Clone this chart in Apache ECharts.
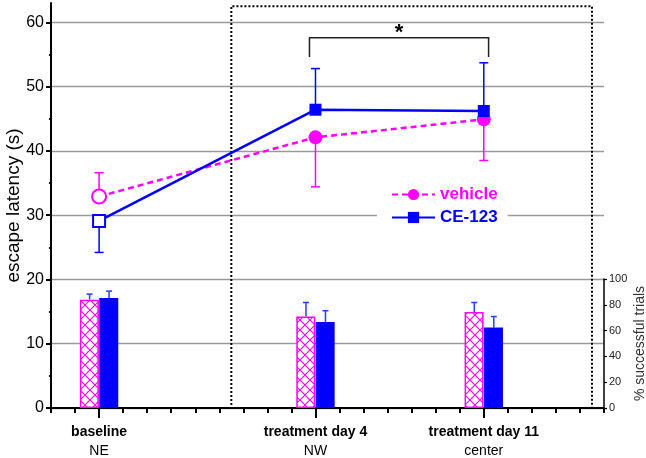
<!DOCTYPE html>
<html lang="en">
<head>
    <meta charset="UTF-8">
    <title>escape latency</title>
    <script src="https://cdn.jsdelivr.net/npm/echarts@6/dist/echarts.min.js"></script>
    <style>
        body { margin: 0; background: #fff; }
        #chart { width: 646px; height: 458px; }
    </style>
</head>
<body>
<div id="chart"></div>
<script type="text/javascript">
    // categories (x position on a 0..23 tick scale)
    var categories = ['baseline', 'treatment day 4', 'treatment day 11'];
    var arenas = ['NE', 'NW', 'center'];
    var catPos = [2, 11, 18];

    // escape latency (s), mean and whisker end
    var vehicleLatency = [32.9, 42.1, 44.9];
    var vehicleLatencyErr = [36.6, 34.4, 38.5];
    var ceLatency = [29.1, 46.4, 46.2];
    var ceLatencyErr = [24.2, 52.8, 53.7];

    // % successful trials, mean and whisker end
    var vehicleSuccess = [84.0, 70.9, 74.4];
    var vehicleSuccessErr = [88.3, 81.8, 81.8];
    var ceSuccess = [85.2, 66.6, 62.4];
    var ceSuccessErr = [90.6, 75.4, 70.9];

    // significance bracket day 4 vs day 11 (CE-123)
    var sigSpan = [10.75, 18.2];
    var sigLevel = [57.6, 54.6];
    var sigLabel = '*';

    // treatment period box
    var boxRange = [7.5, 22.5, 62.5];

    var latencyTicks = [0, 10, 20, 30, 40, 50, 60];

    var PINK = '#ff00ff', BLUE = '#0000ff';
    var FONT = 'Liberation Sans, Arial, sans-serif';

    // crosshatch pattern for vehicle bars
    var hatch = document.createElement('canvas');
    hatch.width = 10; hatch.height = 10;
    var hc = hatch.getContext('2d');
    hc.fillStyle = '#fff';
    hc.fillRect(0, 0, 10, 10);
    hc.strokeStyle = PINK;
    hc.lineWidth = 1.2;
    hc.beginPath();
    hc.moveTo(0, 0); hc.lineTo(10, 10);
    hc.moveTo(10, 0); hc.lineTo(0, 10);
    hc.stroke();

    function pts(ys) {
        return catPos.map(function (x, i) { return [x, ys[i]]; });
    }
    function errPts(ys, ends) {
        return catPos.map(function (x, i) { return [x, ys[i], ends[i]]; });
    }
    function markerPts(ys, color) {
        // first point (baseline) is drawn open
        return catPos.map(function (x, i) {
            var d = { value: [x, ys[i]] };
            if (i === 0) d.itemStyle = { color: '#fff', borderColor: color, borderWidth: 2 };
            return d;
        });
    }

    function errRender(offset, cap, color, width) {
        return function (params, api) {
            var p0 = api.coord([api.value(0), api.value(1)]);
            var p1 = api.coord([api.value(0), api.value(2)]);
            var x = p0[0] + offset;
            return {
                type: 'group',
                children: [
                    { type: 'line', shape: { x1: x, y1: p0[1], x2: x, y2: p1[1] }, style: { stroke: color, lineWidth: width } },
                    { type: 'line', shape: { x1: x - cap, y1: p1[1], x2: x + cap, y2: p1[1] }, style: { stroke: color, lineWidth: width } }
                ]
            };
        };
    }

    var myChart = echarts.init(document.getElementById('chart'));

    var gridLineColors = latencyTicks.map(function () { return '#9a9a9a'; });
    gridLineColors.push('rgba(0,0,0,0)');

    myChart.setOption({
        animation: false,
        textStyle: { fontFamily: FONT },
        grid: [
            { left: 51, right: 42, top: 3, bottom: 50, outerBoundsMode: 'none', containLabel: false },
            { left: 51, right: 42, top: 279, bottom: 50, outerBoundsMode: 'none', containLabel: false }
        ],
        legend: {
            orient: 'vertical',
            left: 377,
            top: 182,
            backgroundColor: '#fff',
            padding: [4, 10, 4, 14],
            itemGap: 6,
            itemWidth: 43,
            itemHeight: 14,
            textStyle: { fontSize: 17, fontWeight: 'bold', fontFamily: FONT },
            data: [
                { name: 'vehicle', textStyle: { color: PINK } },
                { name: 'CE-123', textStyle: { color: BLUE } }
            ]
        },
        xAxis: [
            {
                type: 'value', gridIndex: 0, min: 0, max: 23, interval: 1,
                axisLine: { onZero: false, lineStyle: { color: '#000', width: 2 } },
                axisTick: { length: 5, lineStyle: { color: '#000', width: 2 } },
                axisLabel: { show: false },
                splitLine: { show: false }
            },
            {
                type: 'value', gridIndex: 0, min: 0, max: 23, position: 'bottom',
                axisLine: { show: false, onZero: false },
                axisTick: { customValues: catPos, length: 10, lineStyle: { color: '#000', width: 2 } },
                axisLabel: {
                    customValues: catPos,
                    margin: 15,
                    formatter: function (v) {
                        var i = catPos.indexOf(v);
                        if (i < 0) return '';
                        return '{b|' + categories[i] + '}\n{n|' + arenas[i] + '}';
                    },
                    rich: {
                        b: { fontSize: 14, fontWeight: 'bold', color: '#000', lineHeight: 19, fontFamily: FONT },
                        n: { fontSize: 14, color: '#000', lineHeight: 19, fontFamily: FONT }
                    }
                },
                splitLine: { show: false }
            },
            {
                type: 'value', gridIndex: 1, min: 0, max: 23, show: false,
                axisLine: { onZero: false }
            }
        ],
        yAxis: [
            {
                type: 'value', gridIndex: 0, min: 0, max: 63, interval: 10,
                name: 'escape latency (s)',
                nameLocation: 'middle',
                nameGap: 28,
                nameMoveOverlap: false,
                nameTextStyle: { fontSize: 19, color: '#000', fontFamily: FONT },
                axisLine: { show: true, onZero: false, lineStyle: { color: '#000', width: 2 } },
                axisTick: { show: true, customValues: latencyTicks, length: 5, lineStyle: { color: '#000', width: 2 } },
                minorTick: { show: true, splitNumber: 2, length: 2, lineStyle: { color: '#000', width: 2 } },
                axisLabel: { customValues: latencyTicks, fontSize: 16, color: '#000', margin: 7 },
                splitLine: { show: true, lineStyle: { color: gridLineColors, width: 1.3 } }
            },
            {
                type: 'value', gridIndex: 1, min: 0, max: 100, interval: 20,
                position: 'right',
                name: '% successful trials',
                nameLocation: 'middle',
                nameGap: 29,
                nameMoveOverlap: false,
                nameTextStyle: { fontSize: 14, color: '#333', fontFamily: FONT },
                axisLine: { show: true, onZero: false, lineStyle: { color: '#000', width: 1.5 } },
                axisTick: { show: true, length: 3, lineStyle: { color: '#000', width: 1.2 } },
                axisLabel: { fontSize: 11, color: '#222', margin: 5 },
                splitLine: { show: false }
            }
        ],
        series: [
            {
                name: 'vehicle bars', type: 'bar', xAxisIndex: 2, yAxisIndex: 1,
                barWidth: 19, barGap: '2%',
                itemStyle: { color: { image: hatch, repeat: 'repeat' }, borderColor: PINK, borderWidth: 1.5 },
                data: pts(vehicleSuccess)
            },
            {
                name: 'CE-123 bars', type: 'bar', xAxisIndex: 2, yAxisIndex: 1,
                barWidth: 19,
                itemStyle: { color: BLUE },
                data: pts(ceSuccess)
            },
            {
                type: 'custom', xAxisIndex: 2, yAxisIndex: 1,
                renderItem: errRender(-9.5, 3, '#2b3cf0', 1.5),
                encode: { x: 0, y: [1, 2] },
                data: errPts(vehicleSuccess, vehicleSuccessErr)
            },
            {
                type: 'custom', xAxisIndex: 2, yAxisIndex: 1,
                renderItem: errRender(10, 3, '#2b3cf0', 1.5),
                encode: { x: 0, y: [1, 2] },
                data: errPts(ceSuccess, ceSuccessErr)
            },
            {
                type: 'custom', xAxisIndex: 0, yAxisIndex: 0, z: 3,
                renderItem: errRender(0, 4.5, PINK, 1.5),
                encode: { x: 0, y: [1, 2] },
                data: errPts(vehicleLatency, vehicleLatencyErr)
            },
            {
                type: 'custom', xAxisIndex: 0, yAxisIndex: 0, z: 3,
                renderItem: errRender(0, 4.5, BLUE, 1.5),
                encode: { x: 0, y: [1, 2] },
                data: errPts(ceLatency, ceLatencyErr)
            },
            {
                name: 'vehicle', type: 'line', xAxisIndex: 0, yAxisIndex: 0, z: 4,
                symbol: 'circle', symbolSize: 14,
                lineStyle: { color: PINK, width: 2.5, type: [6, 4] },
                itemStyle: { color: PINK },
                data: markerPts(vehicleLatency, PINK),
                markArea: {
                    silent: true,
                    itemStyle: { color: 'rgba(0,0,0,0)', borderColor: '#000', borderWidth: 2, borderType: [2, 2] },
                    data: [[{ coord: [boxRange[0], 0] }, { coord: [boxRange[1], boxRange[2]] }]]
                }
            },
            {
                name: 'CE-123', type: 'line', xAxisIndex: 0, yAxisIndex: 0, z: 5,
                symbol: 'rect', symbolSize: 12,
                lineStyle: { color: BLUE, width: 2.5 },
                itemStyle: { color: BLUE },
                data: markerPts(ceLatency, BLUE)
            },
            {
                type: 'custom', xAxisIndex: 0, yAxisIndex: 0, z: 5,
                encode: { x: [0, 1], y: [2, 3] },
                data: [[sigSpan[0], sigSpan[1], sigLevel[0], sigLevel[1]]],
                renderItem: function (params, api) {
                    var a = api.coord([api.value(0), api.value(2)]);
                    var b = api.coord([api.value(1), api.value(2)]);
                    var a2 = api.coord([api.value(0), api.value(3)]);
                    var b2 = api.coord([api.value(1), api.value(3)]);
                    return {
                        type: 'group',
                        children: [
                            { type: 'polyline', shape: { points: [a2, a, b, b2] }, style: { stroke: '#222', lineWidth: 1.5, fill: null } },
                            { type: 'text', style: { text: sigLabel, x: (a[0] + b[0]) / 2, y: a[1] - 5, align: 'center', verticalAlign: 'middle', fontSize: 22, fontWeight: 'bold', fill: '#000', fontFamily: FONT } }
                        ]
                    };
                }
            }
        ]
    });
</script>
</body>
</html>
